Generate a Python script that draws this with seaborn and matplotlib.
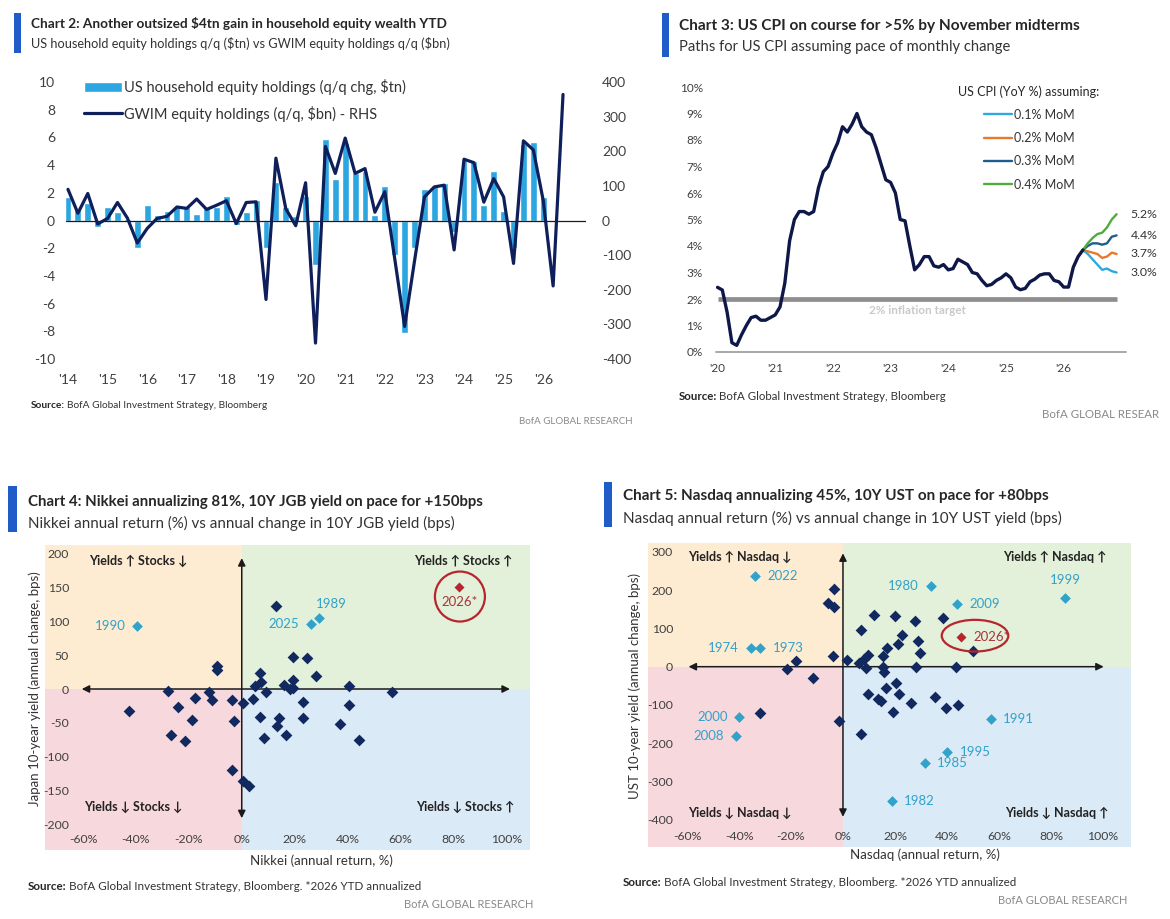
import numpy as np
import pandas as pd
import matplotlib
matplotlib.use("Agg")
import matplotlib.pyplot as plt
import seaborn as sns
from matplotlib.patches import Ellipse, Rectangle

# ---------------- DATA ----------------
# Chart 2: quarterly, starting 2014 (quarter index 0 = start of 2014)
hh_equity_chg_tn = [1.7, 0.8, 1.25, -0.45, 0.95, 0.6, 0.1, -2.0, 1.1, 0.4,
                    0.7, 1.0, 1.0, 0.5, 0.9, 1.0, 1.8, -0.3, 0.6, 1.45,
                    -2.0, 2.8, 1.0, 0.3, 1.8, -3.2, 5.9, 3.0, 5.6, 3.4,
                    3.6, 0.4, 2.5, -2.5, -8.1, -2.0, 2.3, 2.5, 2.7, -0.8,
                    4.4, 4.3, 1.1, 3.6, 0.7, -2.0, 5.5, 5.7, 1.7]
gwim_equity_chg_bn = [90, 21, 78, -10, 6, 52, 7, -65, -23, 6,
                      12, 39, 35, 62, 32, 44, 57, -9, 52, 54,
                      -228, 180, 34, -15, 109, -354, 214, 136, 238, 136,
                      150, 24, 83, -110, -306, -117, 68, 97, 102, -85,
                      177, 167, 53, 121, 68, -124, 230, 204, 58, -189, 364]
chart2_years = list(range(2014, 2027))
chart2_year_labels = ["'14", "'15", "'16", "'17", "'18", "'19", "'20",
                      "'21", "'22", "'23", "'24", "'25", "'26"]

# Chart 3: monthly US CPI YoY %, Jan 2020 onwards
cpi_actual = [2.44, 2.34, 1.5, 0.35, 0.25, 0.65, 1.0, 1.3, 1.35, 1.2, 1.2, 1.3,
              1.4, 1.7, 2.6, 4.2, 5.0, 5.3, 5.3, 5.2, 5.3, 6.2, 6.8, 7.0,
              7.5, 7.9, 8.5, 8.3, 8.6, 9.0, 8.5, 8.3, 8.2, 7.7, 7.1, 6.5,
              6.4, 6.0, 5.0, 4.95, 4.0, 3.1, 3.3, 3.6, 3.6, 3.25, 3.2, 3.3,
              3.1, 3.15, 3.5, 3.4, 3.3, 3.0, 2.95, 2.7, 2.5, 2.55, 2.7, 2.8,
              2.95, 2.8, 2.45, 2.35, 2.4, 2.65, 2.75, 2.9, 2.95, 2.95, 2.7, 2.65,
              2.45, 2.45, 3.2, 3.6, 3.85]
cpi_path_01 = [3.85, 3.7, 3.5, 3.3, 3.1, 3.15, 3.05, 3.0]
cpi_path_02 = [3.85, 3.8, 3.75, 3.7, 3.55, 3.6, 3.75, 3.7]
cpi_path_03 = [3.85, 4.0, 4.1, 4.1, 4.05, 4.1, 4.35, 4.4]
cpi_path_04 = [3.85, 4.1, 4.3, 4.45, 4.5, 4.7, 5.0, 5.2]
cpi_path_names = ["0.1% MoM", "0.2% MoM", "0.3% MoM", "0.4% MoM"]
cpi_end_labels = ["3.0%", "3.7%", "4.4%", "5.2%"]
cpi_years = list(range(2020, 2027))
cpi_year_labels = ["'20", "'21", "'22", "'23", "'24", "'25", "'26"]

# Chart 4: Nikkei annual return (%) vs 10Y JGB yield change (bps)
nikkei_ret = [13, -9.2, -9.2, 19.3, 24.6, 28.1, 6.9, 7.2, 5, 15.8, 19.3, 18.3, 19.5,
              9.1, 40.7, 57, -27.7, -12.4, -11.3, -17.8, -3.5, 0.4, 4.2, -42.6,
              -24.2, -18.9, -2.9, 6.9, 14.2, 13.2, 23.1, 23.3, 40.4, 37, -26.9,
              -21.6, 8.4, 16.6, 44.4, -3.8, 0.4, 2.9]
jgb_chg = [122.5, 34, 28, 46.6, 45, 19, 23, 11, 5, 6, 13, 0, 2,
           -4, 5, -5, -3, -4, -16, -13, -16, -21, -15, -32,
           -27, -45, -47, -41, -43, -54, -19, -42, -23, -51, -68,
           -76, -72, -68, -75, -119, -135, -143]
nikkei_hl_years = ["1990", "2025", "1989"]
nikkei_hl_ret = [-39.5, 26.1, 29.1]
nikkei_hl_chg = [93, 95, 104]
nikkei_2026_ret = [82.3]
jgb_2026_chg = [150]

# Chart 5: Nasdaq annual return (%) vs 10Y UST yield change (bps)
nasdaq_ret = [-3.6, -5.8, -3.6, -3.8, 11.8, 20.1, 27.9, 38.5, 7.1, 22.7, 21, 16.9,
              28.8, 29.7, 15.3, 9.5, 7.9, 6, 1.5, 8.8, 15.3, 15.6, 28.1, 43.5, 50,
              -18.1, -21.5, -11.4, -32.1, -1.7, 7.1, 9.6, 13.5, 14.6, 16.5, 20.4,
              21.4, 26.3, 19.1, 35.5, 39.6, 44.1]
ust_chg = [202, 167, 157, 28, 135, 132, 120, 128, 96, 84, 59, 50,
           68, 37, 28, 30, 19, 10, 17, -3, 0, -13, -2, 0, 42,
           14, -7, -29, -121, -142, -176, -70, -85, -90, -55, -42,
           -70, -94, -119, -78, -107, -100]
nasdaq_hl_years = ["2022", "1980", "1999", "2009", "1974", "1973",
                   "2000", "2008", "1991", "1995", "1985", "1982"]
nasdaq_hl_ret = [-33.7, 34, 85.5, 43.8, -35.4, -31.8, -39.9, -41.2, 56.9, 40, 31.7, 18.8]
nasdaq_hl_chg = [237, 211, 180, 163, 50, 48, -132, -181, -137, -224, -252, -350]
nasdaq_2026_ret = [45.5]
ust_2026_chg = [77]

scatter_xticks = [-60, -40, -20, 0, 20, 40, 60, 80, 100]
nikkei_yticks = [-200, -150, -100, -50, 0, 50, 100, 150, 200]
nasdaq_yticks = [-400, -300, -200, -100, 0, 100, 200, 300]

# ---------------- STYLE ----------------
sns.set_theme(style="white")
FONT = ["Lato", "DejaVu Sans"]
plt.rcParams["font.family"] = FONT
plt.rcParams["axes.unicode_minus"] = False

NAVY = "#0e1f5b"
BAR = "#2ba6e0"
ACCENT = "#1f5cc8"
TXT = "#262626"
TICK = "#404040"
GRAYTXT = "#8a8a8a"
PEACH, GREEN, PINK, LBLUE = "#fdebd2", "#e3f0da", "#f7d8dd", "#dbeaf7"
DARKPT = "#11295f"
HLCOL = "#31a2c9"
RED = "#b8262d"

W, H = 1170, 919
fig = plt.figure(figsize=(W / 100, H / 100), dpi=100)


def rect(x0, y0, x1, y1):
    return [x0 / W, 1 - y1 / H, (x1 - x0) / W, (y1 - y0) / H]


def fx(x):
    return x / W


def fy(y):
    return 1 - y / H


def header(x, yt, ys, title, sub, tsize, ssize, bar):
    fig.text(fx(x), fy(yt), title, weight="bold", size=tsize, color=TXT, va="center")
    fig.text(fx(x), fy(ys), sub, size=ssize, color="#333333", va="center")
    bx0, by0, bx1, by1 = bar
    fig.add_artist(Rectangle((fx(bx0), fy(by1)), (bx1 - bx0) / W, (by1 - by0) / H,
                             transform=fig.transFigure, color=ACCENT, lw=0))


def source(ax, x, y, rest, size):
    t = fig.text(fx(x), fy(y), "Source:", weight="bold", size=size, color=TXT, va="center")
    ax.annotate(rest, xy=(1, 0), xycoords=t, xytext=(1.5, 0), textcoords="offset points",
                va="bottom", ha="left", size=size, color="#333333", annotation_clip=False)


def brand(x, y, s, size):
    fig.text(fx(x), fy(y), s, ha="right", va="center", size=size, color=GRAYTXT)


# ---------------- CHART 2 ----------------
ax2 = fig.add_axes(rect(66, 82, 586, 359))
q_years = 2014 + np.arange(len(gwim_equity_chg_bn)) / 4
df_bar = pd.DataFrame({"t": q_years[:len(hh_equity_chg_tn)], "v": hh_equity_chg_tn})
sns.barplot(data=df_bar, x="t", y="v", native_scale=True, width=0.7, color=BAR,
            saturation=1, errorbar=None, ax=ax2,
            label="US household equity holdings (q/q chg, \\$tn)", zorder=2)
ax2.axhline(0, color="#1a1a1a", lw=0.9, zorder=3)
ax2r = ax2.twinx()
df_line = pd.DataFrame({"t": q_years, "v": gwim_equity_chg_bn})
sns.lineplot(data=df_line, x="t", y="v", ax=ax2r, color=NAVY, lw=2.3,
             label="GWIM equity holdings (q/q, \\$bn) - RHS")
ax2.set_ylim(-10, 10)
ax2r.set_ylim(-400, 400)
ax2.set_xlim(2013.95, 2027.08)
ax2.set_xticks(chart2_years)
ax2.set_xticklabels(chart2_year_labels)
ax2.set_yticks(range(-10, 11, 2))
ax2.set_yticklabels([str(v) for v in range(-10, 11, 2)])
ax2r.set_yticks(range(-400, 401, 100))
ax2r.set_yticklabels([str(v) for v in range(-400, 401, 100)])
for a in (ax2, ax2r):
    a.set_xlabel("")
    a.set_ylabel("")
    for s in a.spines.values():
        s.set_visible(False)
    if a.get_legend() is not None:
        a.get_legend().remove()
ax2.tick_params(axis="y", length=0, pad=8, labelsize=10, labelcolor=TICK)
ax2.tick_params(axis="x", length=0, pad=11, labelsize=10, labelcolor=TICK)
ax2r.tick_params(axis="y", length=0, pad=11.5, labelsize=10, labelcolor=TICK)
h1, l1 = ax2.get_legend_handles_labels()
h2, l2 = ax2r.get_legend_handles_labels()
ax2r.legend(h1 + h2, l1 + l2, loc="upper left", bbox_to_anchor=(fx(84), fy(79)),
            bbox_transform=fig.transFigure, frameon=False, fontsize=10.5,
            handlelength=2.6, handleheight=0.7, handletextpad=0.15,
            labelspacing=0.72, borderpad=0, borderaxespad=0, labelcolor="#333333")
header(31, 24, 44, "Chart 2: Another outsized \\$4tn gain in household equity wealth YTD",
       "US household equity holdings q/q (\\$tn) vs GWIM equity holdings q/q (\\$bn)",
       9.8, 9.2, (14, 13, 21, 53))
source(ax2, 31, 405, "BofA Global Investment Strategy, Bloomberg", 7.3)
brand(633, 421, "BofA GLOBAL RESEARCH", 7.0)

# ---------------- CHART 3 ----------------
ax3 = fig.add_axes(rect(716, 87, 1126, 352))
m_act = 2020 + np.arange(len(cpi_actual)) / 12
start_f = len(cpi_actual) - 1
m_fc = 2020 + (start_f + np.arange(len(cpi_path_01))) / 12
ax3.axhline(0, color="#a8a8a8", lw=1.4, zorder=1, clip_on=False)
ax3.plot([m_act[0], m_fc[-1]], [2, 2], color="#8e8e8e", lw=3.4, zorder=1,
         solid_capstyle="butt")
ax3.text((m_act[0] + m_fc[-1]) / 2 - 0.0, 1.57, "2% inflation target", ha="center",
         va="center", size=8.4, weight="bold", color="#c9c9c9")
paths = [cpi_path_01, cpi_path_02, cpi_path_03, cpi_path_04]
pcols = ["#2fa8e0", "#e8782c", "#1d5e8c", "#4fad3b"]
for vals, name, col in zip(paths, cpi_path_names, pcols):
    sns.lineplot(x=m_fc, y=vals, ax=ax3, color=col, lw=1.7, label=name, zorder=3)
sns.lineplot(x=m_act, y=cpi_actual, ax=ax3, color="#0d1848", lw=2.4, zorder=4, legend=False)
for vals, lab, col in zip(paths, cpi_end_labels, pcols):
    ax3.annotate(lab, xy=(m_fc[-1], vals[-1]), xytext=(10, 0), textcoords="offset points",
                 va="center", ha="left", size=8.8, color="#333333", annotation_clip=False)
ax3.set_xlim(2019.974, 2027.08)
ax3.set_ylim(0, 10)
ax3.set_xticks(cpi_years)
ax3.set_xticklabels(cpi_year_labels)
ax3.set_yticks(range(0, 11))
ax3.set_yticklabels([f"{v}%" for v in range(0, 11)])
for s in ax3.spines.values():
    s.set_visible(False)
ax3.tick_params(axis="y", length=0, pad=9.5, labelsize=8.5, labelcolor=TICK)
ax3.tick_params(axis="x", length=0, pad=8, labelsize=8.5, labelcolor=TICK)
ax3.set_xlabel("")
ax3.set_ylabel("")
h3, l3 = ax3.get_legend_handles_labels()
ax3.legend(h3, l3, title="US CPI (YoY %) assuming:", loc="upper center",
           bbox_to_anchor=(fx(1029), fy(85)), bbox_transform=fig.transFigure,
           frameon=False, fontsize=9, title_fontsize=9, handlelength=2.3,
           handletextpad=0.1, labelspacing=0.9, borderpad=0, borderaxespad=0,
           alignment="center", labelcolor="#333333")
header(679, 26, 47, "Chart 3: US CPI on course for >5% by November midterms",
       "Paths for US CPI assuming pace of monthly change", 11.1, 10.6, (662, 13, 669, 57))
source(ax3, 679, 397, "BofA Global Investment Strategy, Bloomberg", 8.3)
brand(1159, 415, "BofA GLOBAL RESEAR", 8.3)


# ---------------- CHARTS 4 & 5 ----------------
def quadrant_panel(rpx, xlim, ylim, yticks, xs, ys, hl_x, hl_y, hl_years, hl_style,
                   x26, y26, style26, ell, qlabels, qtexts, xlabel, ylabel,
                   hx, vy, ypad, xpad, xlab_pos, ylab_pos):
    ax = fig.add_axes(rect(*rpx))
    ax.set_xlim(*xlim)
    ax.set_ylim(*ylim)
    x0f = (0 - xlim[0]) / (xlim[1] - xlim[0])
    ax.axhspan(0, ylim[1], xmin=0, xmax=x0f, color=PEACH, lw=0, zorder=0)
    ax.axhspan(0, ylim[1], xmin=x0f, xmax=1, color=GREEN, lw=0, zorder=0)
    ax.axhspan(ylim[0], 0, xmin=0, xmax=x0f, color=PINK, lw=0, zorder=0)
    ax.axhspan(ylim[0], 0, xmin=x0f, xmax=1, color=LBLUE, lw=0, zorder=0)
    ap = dict(arrowstyle="<|-|>", color="#1a1a1a", lw=1.1, mutation_scale=11,
              shrinkA=0, shrinkB=0)
    ax.annotate("", xy=(hx[1], 0), xytext=(hx[0], 0), arrowprops=ap, zorder=2)
    ax.annotate("", xy=(0, vy[1]), xytext=(0, vy[0]), arrowprops=ap, zorder=2)
    sns.scatterplot(x=xs, y=ys, ax=ax, marker="D", s=36, color=DARKPT, linewidth=0, zorder=4)
    sns.scatterplot(x=hl_x, y=hl_y, ax=ax, marker="D", s=30, color=HLCOL, linewidth=0, zorder=4)
    sns.scatterplot(x=x26, y=y26, ax=ax, marker="D", s=26, color=RED, linewidth=0, zorder=4)
    for xv, yv, yr in zip(hl_x, hl_y, hl_years):
        ha, dx, dy = hl_style[yr]
        ax.annotate(yr, xy=(xv, yv), xytext=(dx, dy), textcoords="offset points",
                    ha=ha, va="center", size=9.5, color=HLCOL, zorder=5)
    ha, dx, dy = style26
    ax.annotate("2026*", xy=(x26[0], y26[0]), xytext=(dx, dy), textcoords="offset points",
                ha=ha, va="center", size=9.5, color="#a8343b", zorder=5)
    ecx, ecy, ew, eh = ell
    ax.add_patch(Ellipse((x26[0] + ecx, y26[0] + ecy), ew, eh, fill=False, ec=RED,
                         lw=1.6, zorder=5))
    for (qx, qy), qt in zip(qlabels, qtexts):
        ax.text(qx, qy, qt, transform=ax.transAxes, ha="center", va="center",
                weight="bold", size=9, color="#222222", zorder=5)
    ax.set_xticks(scatter_xticks)
    ax.set_xticklabels([f"{v}%" for v in scatter_xticks])
    ax.set_yticks(yticks)
    ax.set_yticklabels([str(v) for v in yticks])
    ax.tick_params(axis="x", length=0, pad=xpad, labelsize=8.8, labelcolor=TICK)
    ax.tick_params(axis="y", length=0, pad=ypad, labelsize=8.8, labelcolor=TICK)
    for s in ax.spines.values():
        s.set_visible(False)
    ax.set_xlabel(xlabel, size=9.5, color="#333333")
    ax.set_ylabel(ylabel, size=9.5, color="#333333")
    ax.xaxis.set_label_coords(*xlab_pos)
    ax.yaxis.set_label_coords(*ylab_pos)
    return ax


nikkei_style = {"1990": ("right", -8, 0), "2025": ("right", -8.5, 0), "1989": ("left", -2, 10)}
ax4 = quadrant_panel((45, 545, 530, 850), (-74.4, 109.0), (-236.8, 211.8), nikkei_yticks,
                     nikkei_ret, jgb_chg, nikkei_hl_ret, nikkei_hl_chg, nikkei_hl_years,
                     nikkei_style, nikkei_2026_ret, jgb_2026_chg, ("center", 0, -10.5),
                     (0.2, -14, 18.9, 73.5),
                     [(0.192, 0.948), (0.862, 0.948), (0.182, 0.141), (0.866, 0.141)],
                     ["Yields \u2191 Stocks \u2193", "Yields \u2191 Stocks \u2191",
                      "Yields \u2193 Stocks \u2193", "Yields \u2193 Stocks \u2191"],
                     "Nikkei (annual return, %)", "Japan 10-year yield (annual change, bps)",
                     (-60.5, 101.4), (-190, 192.5), -17.3, -11.2, (0.571, -0.015), (-0.008, 0.53))
header(28, 502, 523, "Chart 4: Nikkei annualizing 81%, 10Y JGB yield on pace for +150bps",
       "Nikkei annual return (%) vs annual change in 10Y JGB yield (bps)", 10.8, 10.9,
       (8, 486, 17, 532))
source(ax4, 28, 887, "BofA Global Investment Strategy, Bloomberg. *2026 YTD annualized", 8.4)
brand(533, 904, "BofA GLOBAL RESEARCH", 8.0)

nasdaq_style = {"2022": ("left", 8.5, 0), "1980": ("right", -9, 0), "1999": ("center", 0, 13),
                "2009": ("left", 9, 0), "1974": ("right", -8.5, 0), "1973": ("left", 9, 0),
                "2000": ("right", -8.5, 0), "2008": ("right", -8.5, 0), "1991": ("left", 8.5, 0),
                "1995": ("left", 9, 0), "1985": ("left", 8.5, 0), "1982": ("left", 8.5, 0)}
ax5 = quadrant_panel((648, 543, 1131, 847), (-75.0, 110.8), (-470.8, 323.0), nasdaq_yticks,
                     nasdaq_ret, ust_chg, nasdaq_hl_ret, nasdaq_hl_chg, nasdaq_hl_years,
                     nasdaq_style, nasdaq_2026_ret, ust_2026_chg, ("left", 8.5, 0),
                     (5.3, 4, 25.6, 82.7),
                     [(0.19, 0.955), (0.842, 0.955), (0.19, 0.113), (0.846, 0.113)],
                     ["Yields \u2191 Nasdaq \u2193", "Yields \u2191 Nasdaq \u2191",
                      "Yields \u2193 Nasdaq \u2193", "Yields \u2193 Nasdaq \u2191"],
                     "Nasdaq (annual return, %)", "UST 10-year yield (annual change, bps)",
                     (-59.4, 100.3), (-392, 296), -18, -11.5, (0.573, -0.005), (-0.014, 0.53))
header(623, 496, 518, "Chart 5: Nasdaq annualizing 45%, 10Y UST on pace for +80bps",
       "Nasdaq annual return (%) vs annual change in 10Y UST yield (bps)", 11, 11,
       (604, 482, 612, 527))
source(ax5, 623, 882, "BofA Global Investment Strategy, Bloomberg. *2026 YTD annualized", 8.4)
brand(1127, 900, "BofA GLOBAL RESEARCH", 8.0)

fig.savefig("out.png", dpi=100, facecolor="white")
